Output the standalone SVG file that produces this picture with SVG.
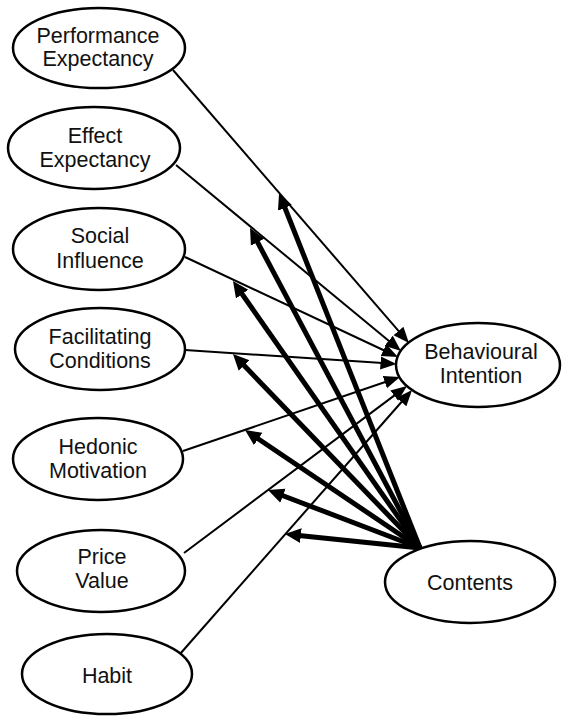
<svg xmlns="http://www.w3.org/2000/svg" width="562" height="717" viewBox="0 0 562 717">
<style>
.node ellipse{fill:#fff;stroke:#000;stroke-width:2.5}
.node text{font-family:"Liberation Sans",Arial,sans-serif;font-size:21.5px;fill:#111;text-anchor:middle}
.thin{stroke:#000;stroke-width:2;fill:none}
.thick{stroke:#000;stroke-width:5;fill:none}
</style>
<defs>
<marker id="aThin" markerUnits="userSpaceOnUse" markerWidth="20" markerHeight="16" viewBox="0 -8 20 16" refX="2" refY="0" orient="auto">
<path d="M0,-6.5 L16,0 L0,6.5 z" fill="#000"/>
</marker>
<marker id="aThick" markerUnits="userSpaceOnUse" markerWidth="20" markerHeight="18" viewBox="0 -9 20 18" refX="2" refY="0" orient="auto">
<path d="M0,-7.5 L16,0 L0,7.5 z" fill="#000"/>
</marker>
</defs>
<rect width="562" height="717" fill="#fff"/>
<g id="connectors">
<line class="thin" x1="173" y1="70" x2="399.8" y2="332.4" marker-end="url(#aThin)"/>
<line class="thin" x1="176" y1="165" x2="390.2" y2="342.1" marker-end="url(#aThin)"/>
<line class="thin" x1="185" y1="257" x2="385.3" y2="351" marker-end="url(#aThin)"/>
<line class="thin" x1="185" y1="350" x2="382.5" y2="363.1" marker-end="url(#aThin)"/>
<line class="thin" x1="183" y1="451" x2="386.7" y2="381.5" marker-end="url(#aThin)"/>
<line class="thin" x1="184" y1="553" x2="395.8" y2="394.4" marker-end="url(#aThin)"/>
<line class="thin" x1="180" y1="654" x2="402.8" y2="400.5" marker-end="url(#aThin)"/>
<line class="thick" x1="420" y1="548" x2="284.2" y2="206" marker-end="url(#aThick)"/>
<line class="thick" x1="420" y1="548" x2="256.6" y2="240.4" marker-end="url(#aThick)"/>
<line class="thick" x1="420" y1="548" x2="241" y2="292.5" marker-end="url(#aThick)"/>
<line class="thick" x1="420" y1="548" x2="242.7" y2="364.1" marker-end="url(#aThick)"/>
<line class="thick" x1="420" y1="548" x2="256.6" y2="437.8" marker-end="url(#aThick)"/>
<line class="thick" x1="420" y1="548" x2="281.1" y2="495" marker-end="url(#aThick)"/>
<line class="thick" x1="420" y1="548" x2="298.9" y2="535.4" marker-end="url(#aThick)"/>
</g>
<g id="performance-expectancy" class="node">
<ellipse cx="99" cy="48" rx="86" ry="40"/>
<text x="98" y="43">Performance</text>
<text x="98" y="66">Expectancy</text>
</g>
<g id="effect-expectancy" class="node">
<ellipse cx="94" cy="148" rx="86" ry="41"/>
<text x="95" y="143">Effect</text>
<text x="95" y="167">Expectancy</text>
</g>
<g id="social-influence" class="node">
<ellipse cx="99" cy="249" rx="86" ry="41"/>
<text x="100" y="243">Social</text>
<text x="100" y="268">Influence</text>
</g>
<g id="facilitating-conditions" class="node">
<ellipse cx="100" cy="349" rx="85" ry="41"/>
<text x="100" y="344">Facilitating</text>
<text x="100" y="368">Conditions</text>
</g>
<g id="hedonic-motivation" class="node">
<ellipse cx="98" cy="459" rx="85" ry="41"/>
<text x="98" y="454">Hedonic</text>
<text x="98" y="478">Motivation</text>
</g>
<g id="price-value" class="node">
<ellipse cx="101" cy="571" rx="84" ry="41"/>
<text x="102" y="564">Price</text>
<text x="102" y="588">Value</text>
</g>
<g id="habit" class="node">
<ellipse cx="107" cy="674" rx="85" ry="40"/>
<text x="107" y="683">Habit</text>
</g>
<g id="behavioural-intention" class="node">
<ellipse cx="478" cy="365" rx="82" ry="42"/>
<text x="481" y="359">Behavioural</text>
<text x="481" y="383">Intention</text>
</g>
<g id="contents" class="node">
<ellipse cx="470" cy="582" rx="85" ry="41"/>
<text x="470" y="590">Contents</text>
</g>
</svg>
